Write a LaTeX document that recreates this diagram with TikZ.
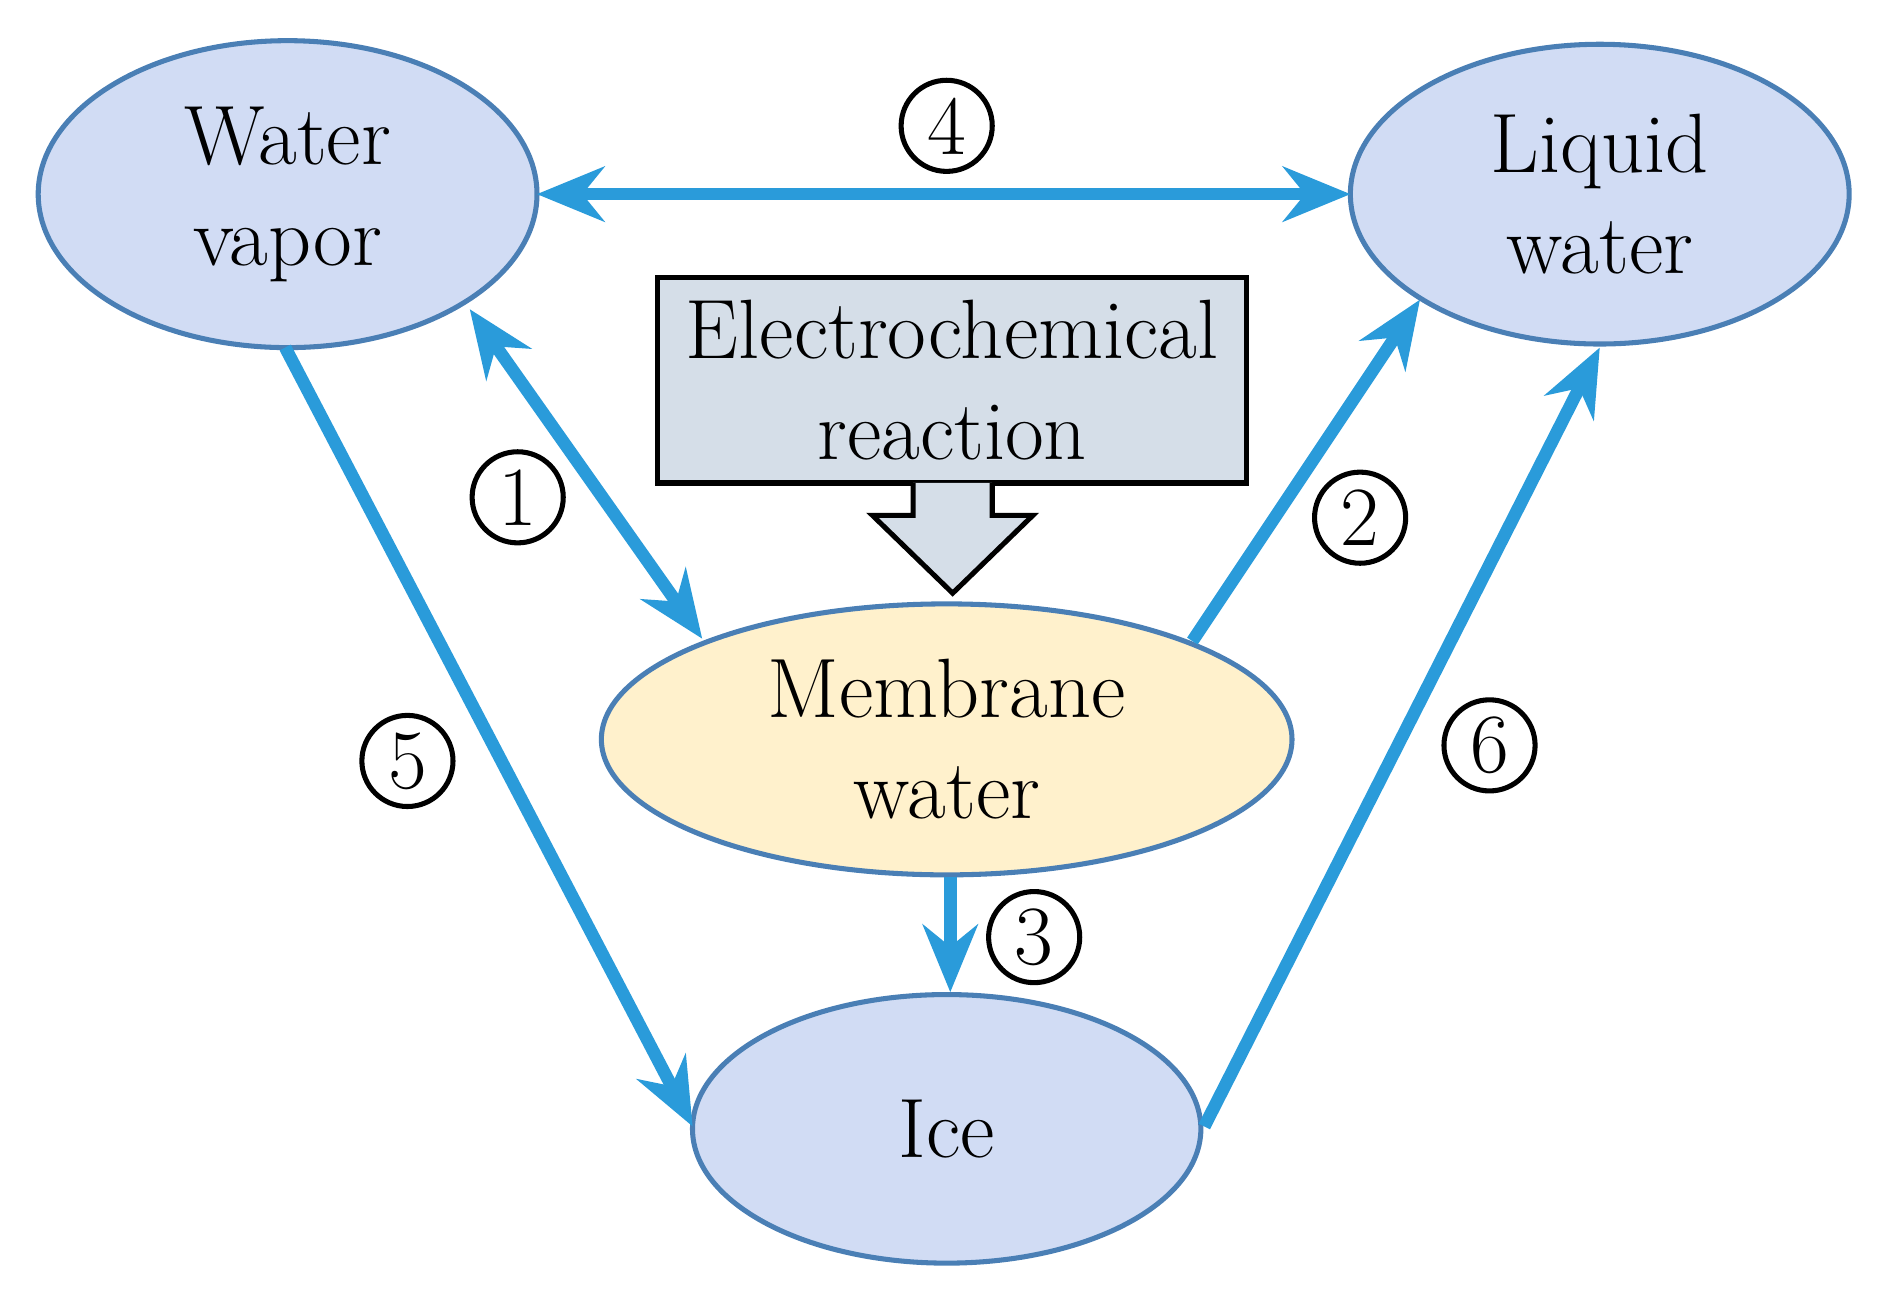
\documentclass[tikz,border=0pt]{standalone}
\usetikzlibrary{shapes.geometric,arrows.meta}
\begin{document}
\begin{tikzpicture}[x=0.01cm,y=-0.01cm,
  st/.style={ellipse,draw=ell,line width=1.2pt,fill=blue!3!ellf,font=\fontsize{20}{24}\selectfont,align=center,inner sep=0pt},
  ar/.style={draw=arr,line width=3pt,-{Stealth[length=16pt,width=13pt]}},
  num/.style={circle,draw,line width=1.2pt,minimum size=0.76cm,inner sep=0pt,font=\fontsize{20}{24}\selectfont}]
\definecolor{ell}{HTML}{4A7FB5}\definecolor{ellf}{HTML}{D7E3F4}
\definecolor{memf}{HTML}{FFF1CC}\definecolor{arr}{HTML}{2A9BDA}\definecolor{boxf}{HTML}{D5DEE8}
\useasboundingbox (0,0) rectangle (1568,1084);
\node[st,minimum width=4.16cm,minimum height=2.56cm] (wv) at (240,162) {Water\\vapor};
\node[st,minimum width=4.16cm,minimum height=2.5cm] (lw) at (1335,162) {Liquid\\water};
\node[st,fill=memf,minimum width=5.76cm,minimum height=2.26cm] (mw) at (790,617) {Membrane\\water};
\node[st,minimum width=4.24cm,minimum height=2.24cm] (ice) at (790,942) {Ice};
\node[draw,line width=1.2pt,fill=boxf,minimum width=4.91cm,minimum height=1.71cm,align=center,font=\fontsize{20}{24}\selectfont] (box) at (794.5,317.5) {Electrochemical\\reaction};
\draw[line width=1.2pt,fill=boxf] (762,403) -- (762,430) -- (728,430) -- (795,495) -- (862,430) -- (828,430) -- (828,403);
\coordinate (a4l) at (448,162); \coordinate (a4r) at (1127,162);
\draw[ar,{Stealth[length=16pt,width=13pt]}-{Stealth[length=16pt,width=13pt]}] (a4l) -- (a4r);
\coordinate (a1a) at (392,258); \coordinate (a1b) at (586,533);
\draw[ar,{Stealth[length=16pt,width=13pt]}-{Stealth[length=16pt,width=13pt]}] (a1a) -- (a1b);
\coordinate (a2a) at (995,535); \coordinate (a2b) at (1185,250);
\draw[ar] (a2a) -- (a2b);
\coordinate (a5a) at (238,290); \coordinate (a5b) at (578,940);
\draw[ar] (a5a) -- (a5b);
\coordinate (a3a) at (793,732); \coordinate (a3b) at (793,828);
\draw[ar] (a3a) -- (a3b);
\coordinate (a6a) at (1005,940); \coordinate (a6b) at (1335,290);
\draw[ar] (a6a) -- (a6b);
\node[num] (n4) at (790,105) {4};
\node[num] (n1) at (432,415) {1};
\node[num] (n2) at (1135,432) {2};
\node[num] (n5) at (340,635) {5};
\node[num] (n3) at (863,782) {3};
\node[num] (n6) at (1243,622) {6};
\end{tikzpicture}
\end{document}
